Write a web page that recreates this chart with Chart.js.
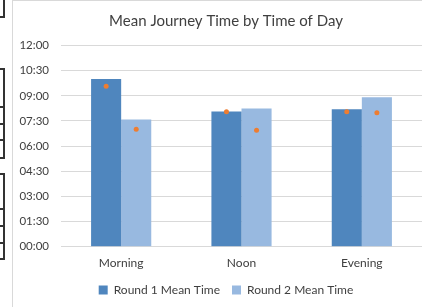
<!DOCTYPE html>
<html>
<head>
<meta charset="utf-8">
<script src="https://cdn.jsdelivr.net/npm/chart.js@4/dist/chart.umd.min.js"></script>
<style>
  html, body { margin: 0; padding: 0; background: #fff; }
  body { width: 422px; height: 307px; position: relative; overflow: hidden; }
  .cell { position: absolute; left: -2px; width: 5px; border: 2px solid #333; border-left: none; }
  #frame { position: absolute; left: 12px; top: 0; width: 440px; height: 310px;
           border-left: 1px solid #d9d9d9; border-top: 1px solid #d9d9d9; }
  #wrap { position: absolute; left: 13px; top: 1px; width: 426px; height: 306px; }
</style>
</head>
<body>
<!-- bits of the spreadsheet showing behind the chart -->
<div class="cell" style="top:-2px;height:16px"></div>
<div class="cell" style="top:68px;height:36px"></div>
<div class="cell" style="top:106px;height:15px"></div>
<div class="cell" style="top:123px;height:14px"></div>
<div class="cell" style="top:139px;height:16px"></div>
<div class="cell" style="top:173px;height:33px"></div>
<div class="cell" style="top:208px;height:15px"></div>
<div class="cell" style="top:225px;height:15px"></div>
<div class="cell" style="top:242px;height:14px"></div>
<div id="frame"></div>
<div id="wrap"><canvas id="myChart"></canvas></div>
<script>
// times in minutes
const categories = ['Morning', 'Noon', 'Evening'];
const round1Mean = [600, 484, 492];
const round2Mean = [455, 495, 535];
const round1Dots = [574, 483, 483];
const round2Dots = [420, 417, 479];
const yTicks = [0, 90, 180, 270, 360, 450, 540, 630, 720];

const fmt = (m) => {
  const h = Math.floor(m / 60), mm = Math.round(m % 60);
  return String(h).padStart(2, '0') + ':' + String(mm).padStart(2, '0');
};

// orange markers in the middle of each bar
const dotsPlugin = {
  id: 'dots',
  afterDatasetsDraw(chart) {
    const c = chart.ctx;
    const y = chart.scales.y;
    c.save();
    c.fillStyle = '#ed7d31';
    [round1Dots, round2Dots].forEach((vals, d) => {
      const bars = chart.getDatasetMeta(d).data;
      vals.forEach((v, i) => {
        c.beginPath();
        c.arc(bars[i].x, y.getPixelForValue(v), 2.5, 0, Math.PI * 2);
        c.fill();
      });
    });
    c.restore();
  },
};

const ctx = document.getElementById('myChart').getContext('2d');
new Chart(ctx, {
  type: 'bar',
  data: {
    labels: categories,
    datasets: [
      { label: 'Round 1 Mean Time', data: round1Mean, backgroundColor: '#4f86be',
        categoryPercentage: 0.5, barPercentage: 1 },
      { label: 'Round 2 Mean Time', data: round2Mean, backgroundColor: '#98b9e0',
        categoryPercentage: 0.5, barPercentage: 1 },
    ],
  },
  plugins: [dotsPlugin],
  options: {
    responsive: true,
    maintainAspectRatio: false,
    animation: false,
    layout: { padding: { left: 0, right: 0, top: 11.5, bottom: 1 } },
    plugins: {
      title: {
        display: true,
        text: 'Mean Journey Time by Time of Day',
        color: '#404040',
        font: { family: 'Lato', size: 15, weight: 'normal' },
        padding: { top: 0, bottom: 15 },
      },
      legend: {
        position: 'bottom',
        labels: {
          boxWidth: 9, boxHeight: 9,
          color: '#404040',
          font: { family: 'Lato', size: 12 },
          padding: 12,
        },
      },
      tooltip: { enabled: false },
    },
    scales: {
      x: {
        afterFit: (axis) => { axis.height = 25.3; },
        grid: { display: false, drawTicks: false },
        border: { color: '#d9d9d9' },
        ticks: { color: '#404040', font: { family: 'Lato', size: 12 }, padding: 9.3 },
      },
      y: {
        min: 0, max: 720,
        afterBuildTicks: (axis) => { axis.ticks = yTicks.map((v) => ({ value: v })); },
        afterFit: (axis) => { axis.width = 48; },
        grid: { color: '#d9d9d9', drawTicks: false },
        border: { display: false },
        ticks: { color: '#404040', font: { family: 'Lato', size: 11.5 }, padding: 12,
                 callback: (v) => fmt(v) },
      },
      // empty strip on the right: the chart runs on past the cropped edge
      yRight: {
        position: 'right',
        afterFit: (axis) => { axis.width = 17; },
        grid: { display: false },
        border: { display: false },
        ticks: { display: false },
      },
    },
  },
});
</script>
</body>
</html>
